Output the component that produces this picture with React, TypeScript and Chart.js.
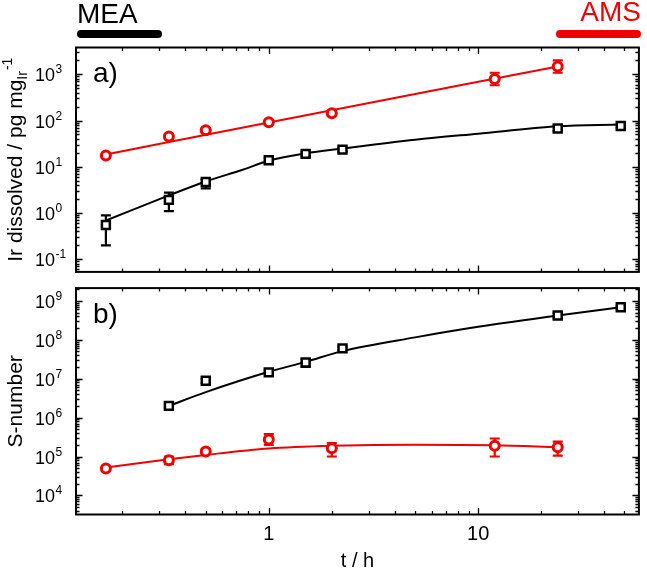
import React, { useEffect, useRef } from 'react';
import { Chart, registerables } from 'chart.js';
Chart.register(...registerables);

const RED = '#f00000';
const BLACK = '#000000';
const FONT = '"Liberation Sans", Arial, sans-serif';

// shared x axis (t / h)
const xMin = 0.12;
const xMax = 58.6;
const xLabelValues = [1, 10];
const xLabelTexts = ['1', '10'];

// ---- panel a) Ir dissolved / pg mg_Ir^-1 ----
const yMinA = 0.0532;
const yMaxA = 3800;
const yExpA = [-1, 0, 1, 2, 3];

const redT_A = [0.1667, 0.3333, 0.5, 1, 2, 12, 24];
const redV_A = [17.6, 45, 62, 92, 144, 790, 1480];
const redLo_A = [16, 40, 56, 84, 130, 580, 1080];
const redHi_A = [19.5, 51, 69, 101, 160, 1080, 2000];

const blkT_A = [0.1667, 0.3333, 0.5, 1, 1.5, 2.25, 24, 48];
const blkV_A = [0.55, 1.92, 4.7, 13.8, 19, 23.5, 67, 76];
const blkLo_A = [0.2, 1.1, 3.4, 12.2, 17, 21, 59, 69];
const blkHi_A = [0.89, 2.75, 5.4, 15.5, 21, 26, 76, 84];

const redFitT_A = [0.1667, 1, 24];
const redFitV_A = [18.5, 91, 1480];
const blkFitT_A = [0.1667, 0.3333, 0.5, 0.75, 1, 1.5, 2.25, 5, 10, 24, 48];
const blkFitV_A = [0.69, 2.4, 4.8, 8.6, 13.5, 19.5, 24.8, 38.5, 52, 75, 82];

// ---- panel b) S-number ----
const yMinB = 3240;
const yMaxB = 2.12e9;
const yExpB = [4, 5, 6, 7, 8, 9];

const redT_B = [0.1667, 0.3333, 0.5, 1, 2, 12, 24];
const redV_B = [4.9e4, 8.0e4, 1.35e5, 2.75e5, 1.63e5, 1.9e5, 1.74e5];
const redLo_B = [4.3e4, 6.4e4, 1.18e5, 2.0e5, 1.0e5, 1.0e5, 1.05e5];
const redHi_B = [5.6e4, 1.0e5, 1.55e5, 3.75e5, 2.2e5, 2.9e5, 2.4e5];

const blkT_B = [0.3333, 0.5, 1, 1.5, 2.25, 24, 48];
const blkV_B = [2.0e6, 8.8e6, 1.45e7, 2.6e7, 6.0e7, 4.2e8, 6.8e8];
const blkLo_B = [1.8e6, 7.8e6, 1.3e7, 2.0e7, 5.4e7, 3.6e8, 6.1e8];
const blkHi_B = [2.2e6, 9.8e6, 1.6e7, 3.2e7, 6.6e7, 4.9e8, 7.5e8];

const redFitT_B = [0.1667, 0.3333, 0.5, 1, 2, 5, 12, 24];
const redFitV_B = [5.2e4, 8.5e4, 1.1e5, 1.6e5, 1.88e5, 2.02e5, 1.95e5, 1.75e5];
const blkFitT_B = [0.3333, 0.5, 1, 1.5, 2.25, 5, 10, 24, 48];
const blkFitV_B = [2.0e6, 4.5e6, 1.5e7, 2.7e7, 5.1e7, 1.15e8, 2.15e8, 4.2e8, 6.8e8];

const pts = (t: number[], v: number[]) => t.map((x, i) => ({ x, y: v[i] }));

function fitSet(t: number[], v: number[], color: string) {
  return {
    data: pts(t, v),
    borderColor: color,
    borderWidth: 2,
    pointRadius: 0,
    cubicInterpolationMode: 'monotone',
    fill: false,
    order: 3,
  };
}

function markerSet(t: number[], v: number[], lo: number[], hi: number[], color: string, style: string) {
  return {
    data: pts(t, v),
    showLine: false,
    pointStyle: style,
    pointRadius: style === 'rect' ? 5.6 : 4.5,
    pointBorderWidth: style === 'rect' ? 2.5 : 3,
    pointBorderColor: color,
    pointBackgroundColor: '#ffffff',
    borderColor: color,
    errLow: lo,
    errHigh: hi,
    errColor: color,
    order: 1,
  };
}

function makePlugin(panel: {
  label: string;
  yExp: number[];
  title: 'ir' | 's';
  bottomAxis: boolean;
  header: boolean;
}) {
  return {
    id: 'panelDeco' + panel.label,
    beforeDatasetDraw(chart: any, args: any) {
      const ds = chart.data.datasets[args.index];
      if (!ds.errLow) return;
      const { ctx } = chart;
      const x = chart.scales.x;
      const y = chart.scales.y;
      ctx.save();
      ctx.strokeStyle = ds.errColor;
      ctx.lineWidth = 2.2;
      ds.data.forEach((p: any, i: number) => {
        const px = x.getPixelForValue(p.x);
        const pl = y.getPixelForValue(ds.errLow[i]);
        const ph = y.getPixelForValue(ds.errHigh[i]);
        ctx.beginPath();
        ctx.moveTo(px, pl);
        ctx.lineTo(px, ph);
        ctx.moveTo(px - 5, pl);
        ctx.lineTo(px + 5, pl);
        ctx.moveTo(px - 5, ph);
        ctx.lineTo(px + 5, ph);
        ctx.stroke();
      });
      ctx.restore();
    },
    afterDraw(chart: any) {
      const { ctx, chartArea: a } = chart;
      const x = chart.scales.x;
      const y = chart.scales.y;
      ctx.save();
      ctx.strokeStyle = BLACK;
      ctx.lineWidth = 1.3;
      // x ticks, top and bottom
      for (let k = -1; k <= 2; k++) {
        for (let m = 1; m <= 9; m++) {
          const v = m * Math.pow(10, k);
          if (v < x.min || v > x.max) continue;
          const px = Math.round(x.getPixelForValue(v)) + 0.5;
          const len = m === 1 ? 6.5 : 3.5;
          ctx.beginPath();
          ctx.moveTo(px, a.bottom);
          ctx.lineTo(px, a.bottom - len);
          ctx.moveTo(px, a.top);
          ctx.lineTo(px, a.top + len);
          ctx.stroke();
        }
      }
      // y ticks, left and right
      const e0 = Math.floor(Math.log10(y.min));
      const e1 = Math.ceil(Math.log10(y.max));
      for (let k = e0; k <= e1; k++) {
        for (let m = 1; m <= 9; m++) {
          const v = m * Math.pow(10, k);
          if (v < y.min || v > y.max) continue;
          const py = Math.round(y.getPixelForValue(v)) + 0.5;
          const len = m === 1 ? 6.5 : 3.5;
          ctx.beginPath();
          ctx.moveTo(a.left, py);
          ctx.lineTo(a.left + len, py);
          ctx.moveTo(a.right, py);
          ctx.lineTo(a.right - len, py);
          ctx.stroke();
        }
      }
      // frame
      ctx.lineWidth = 2;
      ctx.strokeRect(a.left, a.top, a.right - a.left, a.bottom - a.top);

      // y tick labels
      ctx.fillStyle = BLACK;
      ctx.textBaseline = 'alphabetic';
      ctx.textAlign = 'left';
      panel.yExp.forEach((e) => {
        const py = y.getPixelForValue(Math.pow(10, e));
        ctx.font = `18px ${FONT}`;
        ctx.fillText('10', 35, py + 7);
        const w = ctx.measureText('10').width;
        ctx.font = `12px ${FONT}`;
        ctx.fillText(String(e), 35 + w + 0.5, py - 1);
      });

      // x tick labels + x title
      if (panel.bottomAxis) {
        ctx.font = `20px ${FONT}`;
        ctx.textAlign = 'center';
        xLabelValues.forEach((v, i) => {
          ctx.fillText(xLabelTexts[i], x.getPixelForValue(v), a.bottom + 25.5);
        });
        ctx.fillText('t / h', (a.left + a.right) / 2, a.bottom + 52.5);
      }

      // panel label
      ctx.textAlign = 'left';
      ctx.font = `28px ${FONT}`;
      ctx.fillText(panel.label, 93, a.top + 34.5);

      // y title (rotated)
      const cy = (a.top + a.bottom) / 2;
      ctx.save();
      ctx.translate(21.5, cy);
      ctx.rotate(-Math.PI / 2);
      ctx.textAlign = 'left';
      if (panel.title === 'ir') {
        const main = 'Ir dissolved / pg mg';
        ctx.font = `21px ${FONT}`;
        const w1 = ctx.measureText(main).width;
        ctx.font = `14px ${FONT}`;
        const w2 = ctx.measureText('Ir').width;
        const w3 = ctx.measureText('-1').width;
        const total = w1 + w2 + 1 + w3;
        let sx = -total / 2;
        ctx.font = `21px ${FONT}`;
        ctx.fillText(main, sx, 0);
        sx += w1;
        ctx.font = `14px ${FONT}`;
        ctx.fillText('Ir', sx, 5);
        sx += w2 + 1;
        ctx.fillText('-1', sx, -10);
      } else {
        ctx.font = `21px ${FONT}`;
        ctx.textAlign = 'center';
        ctx.fillText('S-number', 0, 0);
      }
      ctx.restore();

      // header: MEA / AMS
      if (panel.header) {
        ctx.font = `28px ${FONT}`;
        ctx.textAlign = 'left';
        ctx.fillStyle = BLACK;
        ctx.fillText('MEA', 77, 23);
        ctx.textAlign = 'right';
        ctx.fillStyle = RED;
        ctx.fillText('AMS', 641, 21);
        ctx.lineCap = 'round';
        ctx.lineWidth = 8;
        ctx.strokeStyle = BLACK;
        ctx.beginPath();
        ctx.moveTo(81, 34);
        ctx.lineTo(158, 34);
        ctx.stroke();
        ctx.strokeStyle = RED;
        ctx.beginPath();
        ctx.moveTo(560, 34);
        ctx.lineTo(637, 34);
        ctx.stroke();
      }
      ctx.restore();
    },
  };
}

function baseOptions(yMin: number, yMax: number, padTop: number, padBottom: number) {
  return {
    animation: false,
    responsive: false,
    maintainAspectRatio: false,
    layout: { padding: { left: 76, right: 3, top: padTop, bottom: padBottom } },
    scales: {
      x: { type: 'logarithmic', min: xMin, max: xMax, display: false },
      y: { type: 'logarithmic', min: yMin, max: yMax, display: false },
    },
    plugins: { legend: { display: false }, tooltip: { enabled: false } },
    events: [],
  };
}

export default function App() {
  const refA = useRef<HTMLCanvasElement>(null);
  const refB = useRef<HTMLCanvasElement>(null);

  useEffect(() => {
    const chartA = new Chart(refA.current as HTMLCanvasElement, {
      type: 'line',
      data: {
        datasets: [
          fitSet(redFitT_A, redFitV_A, RED),
          fitSet(blkFitT_A, blkFitV_A, BLACK),
          markerSet(redT_A, redV_A, redLo_A, redHi_A, RED, 'circle'),
          markerSet(blkT_A, blkV_A, blkLo_A, blkHi_A, BLACK, 'rect'),
        ] as any,
      },
      options: baseOptions(yMinA, yMaxA, 47.5, 2) as any,
      plugins: [makePlugin({ label: 'a)', yExp: yExpA, title: 'ir', bottomAxis: false, header: true })],
    });
    const chartB = new Chart(refB.current as HTMLCanvasElement, {
      type: 'line',
      data: {
        datasets: [
          fitSet(redFitT_B, redFitV_B, RED),
          fitSet(blkFitT_B, blkFitV_B, BLACK),
          markerSet(redT_B, redV_B, redLo_B, redHi_B, RED, 'circle'),
          markerSet(blkT_B, blkV_B, blkLo_B, blkHi_B, BLACK, 'rect'),
        ] as any,
      },
      options: baseOptions(yMinB, yMaxB, 2.7, 53.5) as any,
      plugins: [makePlugin({ label: 'b)', yExp: yExpB, title: 's', bottomAxis: true, header: false })],
    });
    return () => {
      chartA.destroy();
      chartB.destroy();
    };
  }, []);

  return (
    <div style={{ position: 'absolute', left: 0, top: 0, width: 647, height: 568, background: '#ffffff' }}>
      <canvas
        ref={refA}
        width={647}
        height={280}
        style={{ position: 'absolute', left: 0, top: 0, width: 647, height: 280 }}
      />
      <canvas
        ref={refB}
        width={647}
        height={288}
        style={{ position: 'absolute', left: 0, top: 280, width: 647, height: 288 }}
      />
    </div>
  );
}
